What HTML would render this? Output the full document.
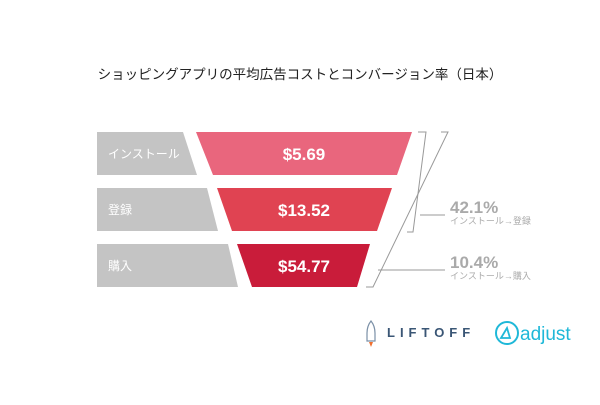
<!DOCTYPE html>
<html><head><meta charset="utf-8"><style>
body{margin:0;background:#fff;width:600px;height:400px;overflow:hidden}
svg text{font-family:"Liberation Sans","Noto Sans CJK JP",sans-serif}
</style></head><body>
<svg width="600" height="400" viewBox="0 0 600 400">
<text x="300" y="79" text-anchor="middle" font-size="13.5" fill="#222">ショッピングアプリの平均広告コストとコンバージョン率（日本）</text>
<polygon points="97,132 183,132 197,175 97,175" fill="#c4c4c4"/>
<polygon points="97,188 207,188 218,231 97,231" fill="#c4c4c4"/>
<polygon points="97,244 228,244 238,287 97,287" fill="#c4c4c4"/>
<text x="108" y="158" font-size="12" fill="#fff">インストール</text>
<text x="108" y="214" font-size="12" fill="#fff">登録</text>
<text x="108" y="270" font-size="12" fill="#fff">購入</text>
<polygon points="196,132 412,132 397,175 213,175" fill="#e9667d"/>
<polygon points="217,188 392,188 377,231 232,231" fill="#e04352"/>
<polygon points="237,244 370,244 357,287 252,287" fill="#c91c3a"/>
<g font-size="17" font-weight="bold" fill="#fff" text-anchor="middle">
<text x="304" y="160">$5.69</text>
<text x="304" y="216">$13.52</text>
<text x="304" y="272">$54.77</text>
</g>
<g stroke="#999" stroke-width="1" fill="none">
<polyline points="418,132 426,132 413,232 407,232"/>
<polyline points="441,132 448,132 373,287 366,287"/>
<line x1="420" y1="215" x2="445" y2="215"/>
<line x1="378" y1="270" x2="445" y2="270"/>
</g>
<g fill="#aaa">
<text x="450" y="213" font-size="17" font-weight="bold">42.1%</text>
<text x="450" y="224" font-size="9">インストール→登録</text>
<text x="450" y="268" font-size="17" font-weight="bold">10.4%</text>
<text x="450" y="279" font-size="9">インストール→購入</text>
</g>
<g>
<path d="M371,321 q4,5 4,12 v8 h-8 v-8 q0,-7 4,-12z" fill="none" stroke="#7a8fa6" stroke-width="1.2"/>
<path d="M369,342 l2,5 l2,-5z" fill="#f07030"/>
<text x="387" y="337" font-size="13" font-weight="bold" fill="#3a5675" letter-spacing="5">LIFTOFF</text>
<circle cx="507" cy="333" r="11" fill="none" stroke="#1fb8d8" stroke-width="2"/>
<path d="M501,338 l6,-10 l3,10 z" fill="none" stroke="#1fb8d8" stroke-width="1.8"/>
<text x="520" y="340" font-size="19" fill="#1fb8d8">adjust</text>
</g>
</svg>
</body></html>
